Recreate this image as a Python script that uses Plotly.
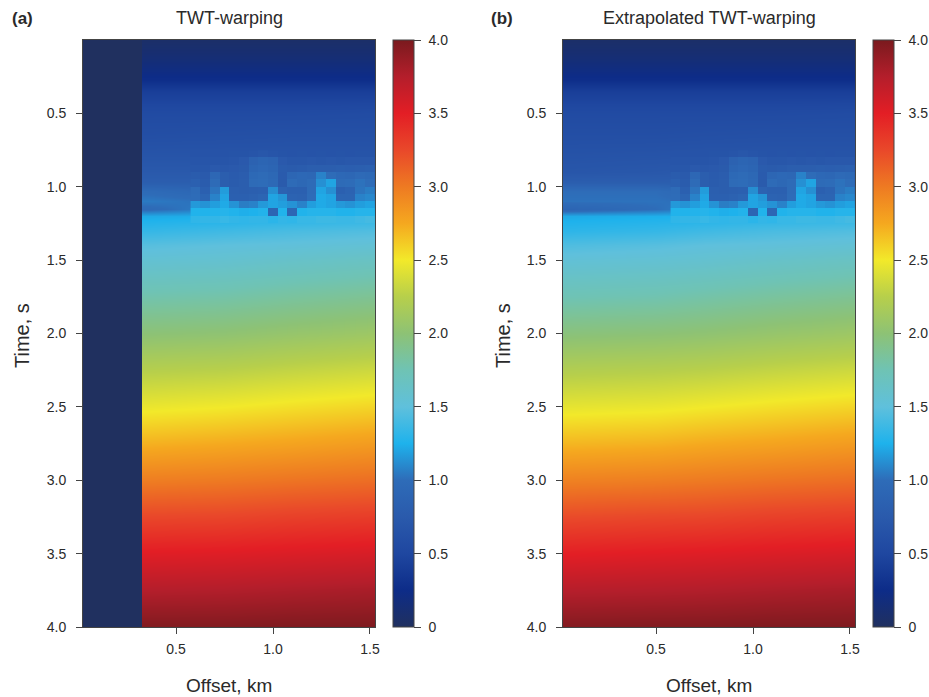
import plotly.graph_objects as go

# ---- colour map (value, colour) ----
cmap_vals = [0.0, 0.25, 0.5, 0.75, 1.0, 1.25, 1.5, 1.75, 2.0, 2.25, 2.5, 2.75, 3.0, 3.25, 3.5, 3.75, 4.0]
cmap_cols = ["#20305f", "#0d2c88", "#1f47a0", "#2a5aac", "#2e6cb8", "#1eb2ec", "#5fc0dc",
             "#6fc3b4", "#8dc275", "#b7cf4b", "#f2e92a", "#f5a81f", "#ee7a22", "#e9482a",
             "#e31e25", "#b41e2b", "#7a1a1e"]

# ---- smooth background field: time rows x offset columns ----
times = [0.0, 0.1, 0.2, 0.27, 0.35, 0.5, 0.65, 0.8, 0.9, 0.97, 1.03, 1.1, 1.15, 1.2, 1.3,
         1.4, 1.5, 1.75, 2.0, 2.25, 2.5, 2.75, 3.0, 3.25, 3.5, 3.75, 4.0]

offsets_a = [0.35, 0.75, 1.1, 1.5]
field_a = [
    [0.06, 0.06, 0.06, 0.06],
    [0.12, 0.12, 0.12, 0.12],
    [0.20, 0.20, 0.20, 0.20],
    [0.27, 0.27, 0.27, 0.27],
    [0.42, 0.42, 0.42, 0.42],
    [0.55, 0.55, 0.55, 0.56],
    [0.60, 0.61, 0.62, 0.62],
    [0.68, 0.68, 0.68, 0.68],
    [0.74, 0.74, 0.75, 0.76],
    [0.80, 0.80, 0.82, 0.84],
    [0.98, 0.90, 0.92, 0.95],
    [1.05, 1.00, 1.05, 1.10],
    [0.97, 1.10, 1.15, 1.20],
    [1.22, 1.24, 1.27, 1.30],
    [1.34, 1.38, 1.42, 1.45],
    [1.47, 1.50, 1.52, 1.55],
    [1.56, 1.58, 1.62, 1.66],
    [1.78, 1.80, 1.84, 1.88],
    [2.00, 2.02, 2.06, 2.10],
    [2.24, 2.26, 2.30, 2.34],
    [2.47, 2.50, 2.54, 2.58],
    [2.72, 2.75, 2.78, 2.82],
    [2.98, 3.00, 3.03, 3.06],
    [3.26, 3.27, 3.30, 3.32],
    [3.52, 3.53, 3.55, 3.57],
    [3.75, 3.76, 3.78, 3.80],
    [3.97, 3.97, 3.98, 3.98],
]

offsets_b = [0.05, 0.5, 0.75, 1.1, 1.5]
field_b = [
    [0.06, 0.06, 0.06, 0.06, 0.06],
    [0.12, 0.12, 0.12, 0.12, 0.12],
    [0.20, 0.20, 0.20, 0.20, 0.20],
    [0.27, 0.27, 0.27, 0.27, 0.27],
    [0.42, 0.42, 0.42, 0.42, 0.42],
    [0.55, 0.55, 0.55, 0.55, 0.56],
    [0.60, 0.60, 0.61, 0.62, 0.62],
    [0.66, 0.67, 0.68, 0.68, 0.68],
    [0.70, 0.72, 0.74, 0.75, 0.76],
    [0.80, 0.80, 0.80, 0.82, 0.84],
    [1.00, 1.00, 0.90, 0.92, 0.95],
    [1.02, 1.02, 1.00, 1.05, 1.10],
    [0.90, 1.00, 1.10, 1.15, 1.20],
    [1.22, 1.24, 1.25, 1.28, 1.30],
    [1.31, 1.34, 1.38, 1.42, 1.45],
    [1.44, 1.47, 1.50, 1.52, 1.55],
    [1.54, 1.56, 1.58, 1.62, 1.66],
    [1.75, 1.77, 1.80, 1.84, 1.88],
    [1.98, 2.00, 2.02, 2.06, 2.10],
    [2.22, 2.24, 2.26, 2.30, 2.34],
    [2.45, 2.47, 2.50, 2.54, 2.58],
    [2.70, 2.72, 2.75, 2.78, 2.82],
    [2.96, 2.98, 3.00, 3.03, 3.06],
    [3.24, 3.26, 3.27, 3.30, 3.32],
    [3.50, 3.52, 3.53, 3.55, 3.57],
    [3.74, 3.75, 3.76, 3.78, 3.80],
    [3.96, 3.97, 3.97, 3.98, 3.98],
]

# ---- muted near-offset traces in the TWT-warping panel ----
mute_values = [[0.0]]
mute_x_edges = [0.0, 0.325]
mute_y_edges = [0.0, 4.0]

# ---- blocky trace-by-trace picks around 1 s ----
block_offsets = [0.6, 0.65, 0.7, 0.75, 0.8, 0.85, 0.9, 0.95, 1.0, 1.05, 1.1, 1.15, 1.2,
                 1.25, 1.3, 1.35, 1.4, 1.45, 1.5]
block_times = [0.775, 0.825, 0.875, 0.925, 0.975, 1.025, 1.075, 1.125, 1.175, 1.225]
block_values = [
    [0.66, 0.66, 0.66, 0.66, 0.67, 0.67, 0.69, 0.71, 0.69, 0.67, 0.66, 0.67, 0.66, 0.67, 0.66, 0.67, 0.66, 0.67, 0.67],
    [0.68, 0.68, 0.69, 0.69, 0.70, 0.74, 0.86, 0.90, 0.88, 0.74, 0.71, 0.71, 0.72, 0.71, 0.72, 0.71, 0.72, 0.72, 0.73],
    [0.71, 0.71, 0.74, 0.72, 0.74, 0.76, 0.90, 0.93, 0.90, 0.78, 0.76, 0.78, 0.80, 0.80, 0.80, 0.82, 0.81, 0.82, 0.84],
    [0.78, 0.75, 0.93, 0.80, 0.77, 0.79, 0.96, 0.98, 0.94, 0.77, 0.92, 0.95, 0.93, 1.08, 1.00, 0.95, 0.93, 0.97, 0.96],
    [0.83, 0.78, 0.98, 0.80, 0.78, 0.80, 0.98, 1.00, 0.96, 0.76, 0.98, 0.94, 0.98, 1.13, 1.20, 0.98, 1.00, 1.02, 1.00],
    [0.98, 0.84, 1.03, 1.17, 0.82, 0.80, 0.82, 0.84, 1.12, 0.86, 0.84, 0.84, 0.98, 1.20, 1.13, 0.84, 0.88, 1.03, 1.06],
    [1.00, 0.90, 1.08, 1.20, 0.84, 0.84, 0.86, 0.90, 1.20, 1.15, 0.88, 0.86, 1.00, 1.22, 1.20, 0.90, 0.90, 1.08, 1.10],
    [1.16, 1.14, 1.18, 1.22, 1.14, 1.06, 1.08, 1.16, 1.20, 1.18, 1.14, 1.08, 1.18, 1.22, 1.20, 1.16, 1.14, 1.18, 1.20],
    [1.26, 1.26, 1.27, 1.28, 1.26, 1.24, 1.25, 1.27, 0.90, 1.26, 0.92, 1.26, 1.28, 1.28, 1.28, 1.26, 1.26, 1.28, 1.28],
    [1.32, 1.33, 1.33, 1.35, 1.33, 1.32, 1.33, 1.33, 1.30, 1.33, 1.32, 1.35, 1.35, 1.37, 1.37, 1.36, 1.36, 1.38, 1.40],
]

time_ticks = [0.5, 1.0, 1.5, 2.0, 2.5, 3.0, 3.5, 4.0]
offset_ticks = [0.5, 1.0, 1.5]
cbar_ticks = [0, 0.5, 1.0, 1.5, 2.0, 2.5, 3.0, 3.5, 4.0]
cbar_labels = ["0", "0.5", "1.0", "1.5", "2.0", "2.5", "3.0", "3.5", "4.0"]

W, H = 929, 697
FONT = "Liberation Sans, Arial, Helvetica, sans-serif"
TXT = "#2a2a2a"
LINE = "#444444"

colorscale = [[v / 4.0, c] for v, c in zip(cmap_vals, cmap_cols)]

fig = go.Figure()

# panel (a)
fig.add_trace(go.Heatmap(x=offsets_a, y=times, z=field_a, zsmooth="best",
                         coloraxis="coloraxis", xaxis="x", yaxis="y", hoverinfo="skip"))
fig.add_trace(go.Heatmap(x=block_offsets, y=block_times, z=block_values, zsmooth=False,
                         coloraxis="coloraxis", xaxis="x", yaxis="y", hoverinfo="skip"))
fig.add_trace(go.Heatmap(x=mute_x_edges, y=mute_y_edges, z=mute_values, zsmooth=False,
                         coloraxis="coloraxis", xaxis="x", yaxis="y", hoverinfo="skip"))

# panel (b)
fig.add_trace(go.Heatmap(x=offsets_b, y=times, z=field_b, zsmooth="best",
                         coloraxis="coloraxis2", xaxis="x2", yaxis="y2", hoverinfo="skip"))
fig.add_trace(go.Heatmap(x=block_offsets, y=block_times, z=block_values, zsmooth=False,
                         coloraxis="coloraxis2", xaxis="x2", yaxis="y2", hoverinfo="skip"))


def px_x(p):
    return p / W


def px_y(p):
    return 1 - p / H


ytop, ybot = 40, 627
dom_y = [px_y(ybot), px_y(ytop)]
dom_a = [px_x(83), px_x(375)]
dom_b = [px_x(563), px_x(855)]
x_range = [0.0206, 1.5258]

axis_common = dict(
    showline=True, mirror=True, linecolor=LINE, linewidth=1,
    ticks="outside", ticklen=6, tickcolor=LINE, tickwidth=1,
    showgrid=False, zeroline=False, automargin=False,
    tickfont=dict(family=FONT, size=14, color=TXT),
)

xa = dict(axis_common, domain=dom_a, range=x_range, tickvals=offset_ticks,
          tickformat=".1f", anchor="y", ticklabelstandoff=3)
xb = dict(axis_common, domain=dom_b, range=x_range, tickvals=offset_ticks,
          tickformat=".1f", anchor="y2", ticklabelstandoff=3)
ya = dict(axis_common, domain=dom_y, range=[4.0, 0.0], tickvals=time_ticks,
          tickformat=".1f", anchor="x", ticklabelstandoff=7)
yb = dict(axis_common, domain=dom_y, range=[4.0, 0.0], tickvals=time_ticks,
          tickformat=".1f", anchor="x2", ticklabelstandoff=7)


def cbar(xpix):
    return dict(
        x=px_x(xpix), xanchor="left", xpad=0, ypad=0,
        y=px_y((ytop + ybot) / 2), yanchor="middle",
        len=(ybot - ytop) / H, lenmode="fraction",
        thickness=21, thicknessmode="pixels",
        outlinewidth=1, outlinecolor=LINE,
        ticks="outside", ticklen=7, tickcolor=LINE,
        tickvals=cbar_ticks, ticktext=["\u2004" + t for t in cbar_labels],
        tickfont=dict(family=FONT, size=14, color=TXT),
    )


annotations = []


def label(text, xp, yp, size, angle=0, bold=False):
    annotations.append(dict(
        text=f"<b>{text}</b>" if bold else text,
        x=px_x(xp), y=px_y(yp), xref="paper", yref="paper",
        xanchor="center", yanchor="middle", showarrow=False, textangle=angle,
        font=dict(family=FONT, size=size, color=TXT),
    ))


label("(a)", 22, 18, 17, bold=True)
label("(b)", 502, 18, 17, bold=True)
label("TWT-warping", 229, 18, 18)
label("Extrapolated TWT-warping", 709, 18, 18)
label("Offset, km", 229, 685, 19)
label("Offset, km", 709, 685, 19)
label("Time, s", 22, 336, 20, angle=-90)
label("Time, s", 503, 336, 20, angle=-90)

fig.update_layout(
    width=W, height=H,
    margin=dict(l=0, r=0, t=0, b=0, pad=0, autoexpand=False),
    paper_bgcolor="white", plot_bgcolor="white",
    font=dict(family=FONT, color=TXT),
    xaxis=xa, yaxis=ya, xaxis2=xb, yaxis2=yb,
    coloraxis=dict(colorscale=colorscale, cmin=0, cmax=4, colorbar=cbar(393)),
    coloraxis2=dict(colorscale=colorscale, cmin=0, cmax=4, colorbar=cbar(873)),
    annotations=annotations,
    showlegend=False,
)

# keep the page exactly the size of the figure (no body margin, no scrollbars)
page_css = (
    "document.documentElement.style.margin='0';"
    "document.documentElement.style.overflow='hidden';"
    "document.body.style.margin='0';"
    "document.body.style.overflow='hidden';"
)
fig.write_html("out.html", post_script=page_css)
